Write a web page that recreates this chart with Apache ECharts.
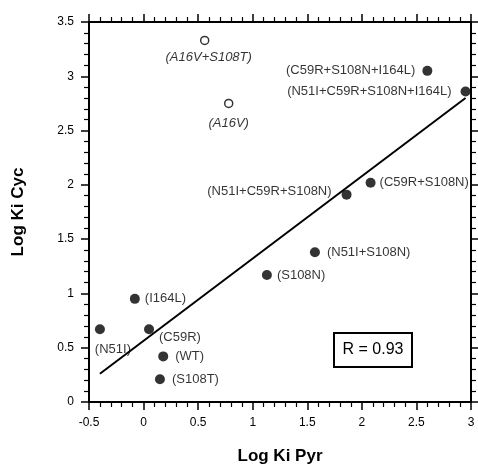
<!DOCTYPE html>
<html>
<head>
<meta charset="utf-8">
<title>Log Ki Cyc vs Log Ki Pyr</title>
<script src="https://cdn.jsdelivr.net/npm/echarts@6/dist/echarts.min.js"></script>
<style>
  html, body { margin: 0; padding: 0; background: #fff; }
  #main { width: 478px; height: 470px; }
</style>
</head>
<body>
<div id="main"></div>
<script>
// mutants shown as filled dots
var filledNames = ['WT', 'N51I', 'C59R', 'S108N', 'S108T', 'I164L', 'N51I+S108N',
    'C59R+S108N', 'N51I+C59R+S108N', 'C59R+S108N+I164L', 'N51I+C59R+S108N+I164L'];
var filledX = [0.18, -0.40, 0.05, 1.13, 0.15, -0.08, 1.57, 2.08, 1.86, 2.60, 2.95];
var filledY = [0.42, 0.67, 0.67, 1.17, 0.21, 0.95, 1.38, 2.02, 1.91, 3.05, 2.86];

// A16V mutants (open circles, italic labels)
var openNames = ['A16V', 'A16V+S108T'];
var openX = [0.78, 0.56];
var openY = [2.75, 3.33];

// regression line end points
var fitX = [-0.40, 2.95];
var fitY = [0.26, 2.80];

var rText = 'R = 0.93';

var font = '"Liberation Sans", Arial, Helvetica, sans-serif';

// where each label sits relative to its dot
var place = {
    'WT': {position: 'right', distance: 7},
    'N51I': {position: 'bottom', distance: 9, offset: [13, 0]},
    'C59R': {position: 'right', distance: 5, offset: [0, 8]},
    'S108N': {position: 'right', distance: 5},
    'S108T': {position: 'right', distance: 7},
    'I164L': {position: 'right', distance: 5},
    'N51I+S108N': {position: 'right', distance: 7},
    'C59R+S108N': {position: 'right', distance: 4},
    'N51I+C59R+S108N': {position: 'left', distance: 10, offset: [0, -3]},
    'C59R+S108N+I164L': {position: 'left', distance: 7},
    'N51I+C59R+S108N+I164L': {position: 'left', distance: 9},
    'A16V': {position: 'bottom', distance: 9},
    'A16V+S108T': {position: 'bottom', distance: 6, offset: [4, 0]}
};

function makeData(names, xs, ys) {
    return names.map(function (n, i) {
        var p = place[n];
        return {
            name: n,
            value: [xs[i], ys[i]],
            label: {position: p.position, distance: p.distance, offset: p.offset || [0, 0]}
        };
    });
}

var fitData = fitX.map(function (x, i) { return [x, fitY[i]]; });

var axisCommon = {
    type: 'value',
    interval: 0.5,
    axisLine: {show: true, onZero: false, lineStyle: {color: '#000', width: 2}},
    axisTick: {show: true, inside: false, length: 8, lineStyle: {color: '#000', width: 1.5}},
    minorTick: {show: true, splitNumber: 5, length: 5, lineStyle: {color: '#000', width: 1.2}},
    splitLine: {show: false},
    axisLabel: {color: '#000', fontSize: 12, fontFamily: font, margin: 15}
};

var myChart = echarts.init(document.getElementById('main'));

var option = {
    animation: false,
    backgroundColor: '#fff',
    grid: {left: 89, right: 7, top: 22, bottom: 64},
    xAxis: [
        Object.assign({}, axisCommon, {
            position: 'bottom', min: -0.5, max: 3,
            name: 'Log Ki Pyr', nameLocation: 'middle', nameGap: 46,
            nameTextStyle: {fontSize: 17, fontWeight: 'bold', color: '#000', fontFamily: font}
        }),
        Object.assign({}, axisCommon, {
            position: 'top', min: -0.5, max: 3, axisLabel: {show: false}
        })
    ],
    yAxis: [
        Object.assign({}, axisCommon, {
            position: 'left', min: 0, max: 3.5,
            name: 'Log Ki Cyc', nameLocation: 'middle', nameGap: 62,
            nameTextStyle: {fontSize: 17, fontWeight: 'bold', color: '#000', fontFamily: font}
        }),
        Object.assign({}, axisCommon, {
            position: 'right', min: 0, max: 3.5, axisLabel: {show: false}
        })
    ],
    series: [
        {
            type: 'line',
            data: fitData,
            symbol: 'none',
            z: 1,
            lineStyle: {color: '#000', width: 2}
        },
        {
            type: 'scatter',
            data: makeData(filledNames, filledX, filledY),
            symbol: 'circle',
            symbolSize: 10,
            z: 3,
            itemStyle: {color: '#000'},
            label: {
                show: true, formatter: '({b})', color: '#000',
                fontSize: 13, fontFamily: font
            }
        },
        {
            type: 'scatter',
            data: makeData(openNames, openX, openY),
            symbol: 'circle',
            symbolSize: 8,
            z: 3,
            itemStyle: {color: '#fff', borderColor: '#000', borderWidth: 1.5},
            label: {
                show: true, formatter: '({b})', color: '#000',
                fontSize: 13, fontStyle: 'italic', fontFamily: font
            }
        }
    ],
    graphic: [
        {
            type: 'group',
            left: 333,
            top: 332,
            children: [
                {
                    type: 'rect',
                    shape: {x: 0, y: 0, width: 78, height: 34},
                    style: {fill: '#fff', stroke: '#000', lineWidth: 2}
                },
                {
                    type: 'text',
                    x: 39, y: 17,
                    style: {
                        text: rText, fill: '#000', fontSize: 16, fontFamily: font,
                        align: 'center', verticalAlign: 'middle'
                    }
                }
            ]
        }
    ]
};

myChart.setOption(option);
</script>
</body>
</html>
